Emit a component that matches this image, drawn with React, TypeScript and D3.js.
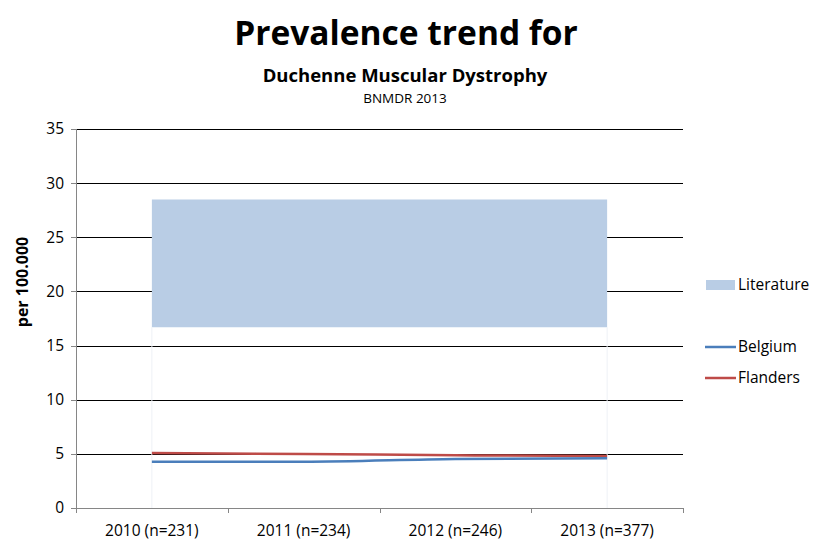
import React from 'react';
import * as d3 from 'd3';

// data
const years = ['2010 (n=231)', '2011 (n=234)', '2012 (n=246)', '2013 (n=377)'];
const belgium = [4.27, 4.27, 4.53, 4.6];
const flanders = [5.08, 4.99, 4.87, 4.8];
const literatureLow = [16.7, 16.7, 16.7, 16.7];
const literatureHigh = [28.5, 28.5, 28.5, 28.5];
const yTicks = [0, 5, 10, 15, 20, 25, 30, 35];

const FONT = '"Open Sans", "Liberation Sans", sans-serif';

const App = () => {
  const width = 813;
  const height = 542;
  const margin = { top: 129, right: 130, bottom: 34, left: 76 };
  const innerW = 683 - margin.left;
  const innerH = 508 - margin.top;

  const x = d3.scaleBand().domain(years).range([0, innerW]).paddingInner(0).paddingOuter(0);
  const cx = (i: number) => (x(years[i]) as number) + x.bandwidth() / 2;
  const y = d3.scaleLinear().domain([0, 35]).range([innerH, 0]);

  const band = d3
    .area<number>()
    .x((_, i) => cx(i))
    .y0((_, i) => y(literatureLow[i]))
    .y1((_, i) => y(literatureHigh[i]));

  const line = d3
    .line<number>()
    .x((_, i) => cx(i))
    .y((d) => y(d))
    .curve(d3.curveMonotoneX);

  const boundaries = [...years.map((c) => x(c) as number), innerW];

  return (
    <svg width={width} height={height} style={{ position: 'absolute', left: 0, top: 0, background: '#fff' }}>
      {/* titles */}
      <text x={406} y={45} textAnchor="middle" fontFamily={FONT} fontWeight="bold" fontSize={33.5}>
        Prevalence trend for
      </text>
      <text x={405} y={82} textAnchor="middle" fontFamily={FONT} fontWeight="bold" fontSize={18.5}>
        Duchenne Muscular Dystrophy
      </text>
      <text x={405} y={103} textAnchor="middle" fontFamily={FONT} fontSize={13.5}>
        BNMDR 2013
      </text>

      <text
        transform="translate(28,282) rotate(-90)"
        textAnchor="middle"
        fontFamily={FONT}
        fontWeight="bold"
        fontSize={16}
      >
        per 100.000
      </text>

      <g transform={`translate(${margin.left},${margin.top})`}>
        {/* gridlines + y tick marks */}
        {yTicks.map((t) => (
          <g key={t}>
            {t > 0 && (
              <line x1={0} x2={innerW} y1={Math.round(y(t)) + 0.5} y2={Math.round(y(t)) + 0.5} stroke="#000" strokeWidth={1} />
            )}
            <line x1={-5} x2={0} y1={Math.round(y(t)) + 0.5} y2={Math.round(y(t)) + 0.5} stroke="#868686" />
            <text
              x={-12}
              y={y(t)}
              dy="0.35em"
              textAnchor="end"
              fontFamily={FONT}
              fontSize={15.5}
              fill="#000"
            >
              {t}
            </text>
          </g>
        ))}

        {/* literature range */}
        <path d={band(literatureLow) || ''} fill="#b9cde5" />
        {[0, years.length - 1].map((i) => (
          <line
            key={i}
            x1={cx(i)}
            x2={cx(i)}
            y1={y(literatureLow[i])}
            y2={innerH}
            stroke="#eef1f6"
            strokeWidth={1}
          />
        ))}

        {/* series */}
        <path d={line(flanders) || ''} fill="none" stroke="#be4b48" strokeWidth={2.5} />
        <path d={line(belgium) || ''} fill="none" stroke="#4a7ebb" strokeWidth={2.5} />

        {/* axes */}
        <line x1={0.5} x2={0.5} y1={0} y2={innerH} stroke="#868686" />
        <line x1={0} x2={innerW} y1={innerH + 0.5} y2={innerH + 0.5} stroke="#868686" />
        {boundaries.map((b, i) => (
          <line key={i} x1={Math.round(b) + 0.5} x2={Math.round(b) + 0.5} y1={innerH} y2={innerH + 5} stroke="#868686" />
        ))}
        {years.map((c, i) => (
          <text key={c} x={cx(i)} y={innerH + 28} textAnchor="middle" fontFamily={FONT} fontSize={15.5} fill="#000">
            {c}
          </text>
        ))}
      </g>

      {/* legend */}
      <g fontFamily={FONT} fontSize={15.5}>
        <rect x={706} y={280} width={29} height={10} fill="#b9cde5" />
        <text x={738} y={285} dy="0.35em">Literature</text>
        <line x1={705} x2={736} y1={347} y2={347} stroke="#4a7ebb" strokeWidth={2.5} />
        <text x={738} y={347} dy="0.35em">Belgium</text>
        <line x1={705} x2={736} y1={378} y2={378} stroke="#be4b48" strokeWidth={2.5} />
        <text x={738} y={378} dy="0.35em">Flanders</text>
      </g>
    </svg>
  );
};

export default App;
